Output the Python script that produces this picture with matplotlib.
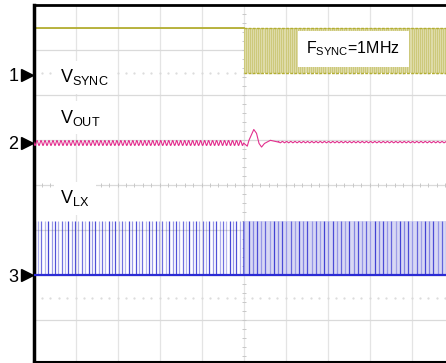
import numpy as np
import matplotlib
matplotlib.use('Agg')
import matplotlib.pyplot as plt

plt.rcParams['font.family'] = ['Liberation Sans', 'DejaVu Sans']
plt.rcParams['mathtext.fontset'] = 'custom'
plt.rcParams['mathtext.rm'] = 'Liberation Sans'

# screen units are scope divisions, 0,0 = centre of graticule
ch_names = ['1', '2', '3']
ch_marker_y = [2.45, 0.94, -2.0]
trace_labels = ['V$_{\\mathrm{SYNC}}$', 'V$_{\\mathrm{OUT}}$', 'V$_{\\mathrm{LX}}$']
label_y = [2.29, 1.39, -0.40]
fsync_text = 'F$_{\\mathrm{SYNC}}$=1MHz'

# channel 1: sync input
sync_low_high = [2.5, 3.5]
sync_period = 0.1      # 1 MHz at 10us/div
# channel 3: switch node
lx_low_high = [-2.0, -0.8]
free_period = 0.08     # free running before sync
lx_alpha = [0.85, 0.4, 0.7, 0.35, 0.9, 0.5]
# channel 2: output ripple + step response at sync start
vout_before = 0.94
vout_ripple = 0.055
ripple_period = 0.095
vout_after = 0.96
vout_ripple_after = 0.015
vout_tx = [0.0, 0.09, 0.13, 0.245, 0.31, 0.37, 0.43, 0.5, 0.64, 0.83]
vout_ty = [0.94, 0.87, 1.0, 1.24, 1.155, 0.93, 0.85, 0.93, 1.0, 0.96]

olive = '#b3ae32'
pink = '#e2308e'
blue = '#2c2cd4'

fig = plt.figure(figsize=(4.46, 3.63), dpi=100)
ax = fig.add_axes([33.5 / 446, 1.3 / 363, 420 / 446, 356.4 / 363])
ax.set_xlim(-5, 5)
ax.set_ylim(-3.92, 4.0)
ax.set_xticks([])
ax.set_yticks([])
ax.spines['left'].set_linewidth(2.5)
ax.spines['top'].set_linewidth(2.0)
ax.spines['bottom'].set_linewidth(1.5)
ax.spines['right'].set_visible(False)

# graticule
for gx in range(-4, 5):
    ax.axvline(gx, color='#e4e4e4', lw=0.9, zorder=0)
for gy in range(-3, 4):
    ax.axhline(gy, color='#dadada', lw=0.9, zorder=0)
tk = np.arange(-5, 5.01, 0.2)
ax.plot(tk, np.zeros_like(tk), ls='none', marker='|', ms=3.5, mew=0.7, color='#c8c8c8', zorder=0)
tky = np.arange(-3.8, 4.0, 0.2)
ax.plot(np.zeros_like(tky), tky, ls='none', marker='_', ms=3.5, mew=0.7, color='#c8c8c8', zorder=0)
for dy in [2.5, -2.5]:
    ax.plot(tk, np.full_like(tk, dy), ls='none', marker='.', ms=1.2, color='#dadada', zorder=0)

# ch1
edges = np.arange(0, 5.05, sync_period / 2)
lv = np.where(np.arange(len(edges)) % 2 == 0, sync_low_high[0], sync_low_high[1])
ax.fill_between([0, 5], sync_low_high[0], sync_low_high[1], color='#dedba8', lw=0, zorder=1)
ax.plot(np.r_[-5, edges], np.r_[sync_low_high[1], lv], drawstyle='steps-post',
        color=olive, lw=0.6, alpha=0.45, zorder=2)
for lvl in sync_low_high:
    ax.plot([0, 5], [lvl, lvl], color=olive, lw=1.0, ls=(0, (2, 1)), zorder=2)
ax.plot([-5, 0], [sync_low_high[1]] * 2, color=olive, lw=1.3, zorder=2)

# ch3
p_before = np.arange(-5 + 0.03, 0, free_period)
p_after = np.arange(0.02, 5, sync_period)
ax.fill_between([0, 5], lx_low_high[0], lx_low_high[1], color='#d8d8f4', lw=0, zorder=1)
pulses = np.r_[p_before, p_after]
cols = [(0.2, 0.2, 0.82, lx_alpha[i % len(lx_alpha)]) for i in range(len(pulses))]
ax.vlines(pulses, lx_low_high[0], lx_low_high[1], colors=cols, lw=0.9, zorder=2)
ax.plot([-5, 5], [lx_low_high[0]] * 2, color=blue, lw=1.6, zorder=3)

# ch2
tb = np.linspace(-5, 0, 3000)
yb = vout_before + vout_ripple * np.sin(2 * np.pi * tb / ripple_period)
ta = np.linspace(vout_tx[-1], 5, 2000)
ya = vout_after + vout_ripple_after * np.sin(2 * np.pi * ta / sync_period)
ax.plot(np.r_[tb, vout_tx, ta], np.r_[yb, vout_ty, ya], color=pink, lw=0.8, zorder=3)

# labels
for name, my in zip(ch_names, ch_marker_y):
    ax.plot([-5.155], [my], marker='>', ms=8.5, color='black', clip_on=False, zorder=5)
    ax.text(-5.36, my - 0.14, name, ha='right', va='baseline', fontsize=13, clip_on=False)
for lab, ly in zip(trace_labels, label_y):
    ax.text(-4.36, ly, lab, ha='left', va='baseline', fontsize=13, zorder=6,
            bbox=dict(boxstyle='square,pad=0.35', fc='white', ec='none'))
ax.text(1.5, 2.93, fsync_text, ha='left', va='baseline', fontsize=11.5, zorder=6,
        bbox=dict(boxstyle='square,pad=0.55', fc='white', ec='none'))

fig.savefig('out.png', dpi=100)
